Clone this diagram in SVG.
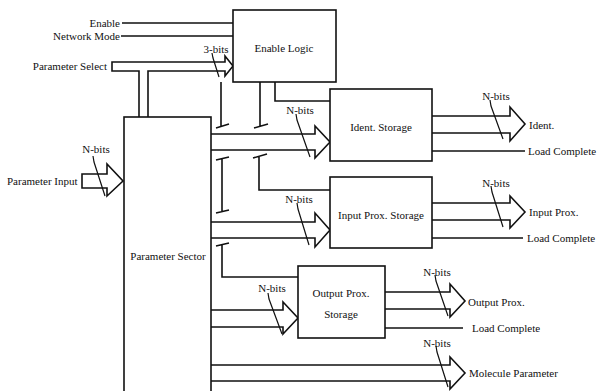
<svg xmlns="http://www.w3.org/2000/svg" width="599" height="391" viewBox="0 0 599 391">
<style>
.box{fill:#fff;stroke:#111;stroke-width:1.6}
.ln{fill:none;stroke:#111;stroke-width:1.6}
.th{fill:none;stroke:#111;stroke-width:1.2}
text{font-family:"Liberation Serif","Times New Roman",serif;font-size:11px;fill:#111}
.c{text-anchor:middle}
.e{text-anchor:end}
</style>
<rect width="599" height="391" fill="#fff"/>
<g id="connectors">
<!-- Enable / Network Mode -->
<path class="ln" d="M122,23 H233 M121,36 H233"/>
<!-- Parameter Select bus -->
<path class="ln" d="M139,117 V71 H112 V62 H225 V56 L233,66 L225,76 V71 H148 V117"/>
<!-- Parameter Input bus -->
<path class="ln" d="M107,174 H82 V188 H107 V196 L123,181 L107,164 Z"/>
<!-- Enable logic outputs with ticks -->
<path class="ln" d="M221,82 V126 M216,128 L229,124"/>
<path class="ln" d="M260,82 V126 M254,128 L268,124"/>
<path class="ln" d="M275,82 V101 H330"/>
<path class="ln" d="M222,159 V212 M216,160 L229,157 M216,213 L229,210"/>
<path class="ln" d="M259,157 V190 H330 M253,158 L267,154"/>
<path class="ln" d="M222,245 V277 H298 M216,246 L229,243"/>
<!-- Ident. Storage in/out -->
<path class="ln" d="M211,134 H315 V126 L330,142 L315,158 V150 H211"/>
<path class="ln" d="M432,116 H510 V107 L525,124 L510,141 V133 H432"/>
<path class="ln" d="M432,151 H525"/>
<!-- Input Prox. Storage in/out -->
<path class="ln" d="M211,222 H315 V213 L330,230 L315,247 V238 H211"/>
<path class="ln" d="M432,203 H510 V196 L525,212 L510,228 V220 H432"/>
<path class="ln" d="M432,238 H523"/>
<!-- Output Prox. Storage in/out -->
<path class="ln" d="M211,310 H283 V302 L298,318 L283,334 V327 H211"/>
<path class="ln" d="M385,292 H450 V284 L465,301 L450,317 V309 H385"/>
<path class="ln" d="M385,328 H463"/>
<!-- Molecule Parameter -->
<path class="ln" d="M211,365 H450 V357 L465,373 L450,389 V381 H211"/>
<!-- bit-width slashes -->
<path class="th" d="M93,156 L94,162 L105,196"/>
<path class="th" d="M212,53 L213,58 L219,77"/>
<path class="th" d="M296,114 L297,120 L310,157"/>
<path class="th" d="M490,100 L491,106 L503,139"/>
<path class="th" d="M297,203 L298,209 L309,245"/>
<path class="th" d="M491,186 L492,192 L503,227"/>
<path class="th" d="M268,293 L269,299 L282,334"/>
<path class="th" d="M435,275 L436,281 L448,316"/>
<path class="th" d="M436,346 L437,352 L448,387"/>
</g>
<g id="enable-logic">
<rect class="box" x="233" y="10" width="103" height="72"/>
<text class="c" x="284" y="52">Enable Logic</text>
</g>
<g id="ident-storage">
<rect class="box" x="330" y="89" width="102" height="72"/>
<text class="c" x="381" y="131">Ident. Storage</text>
</g>
<g id="input-prox-storage">
<rect class="box" x="330" y="177" width="102" height="71"/>
<text class="c" x="381" y="219">Input Prox. Storage</text>
</g>
<g id="output-prox-storage">
<rect class="box" x="298" y="266" width="87" height="72"/>
<text class="c" x="341" y="297">Output Prox.</text>
<text class="c" x="341" y="318">Storage</text>
</g>
<g id="parameter-sector">
<rect class="box" x="124" y="117" width="87" height="280"/>
<text class="c" x="168" y="260">Parameter Sector</text>
</g>
<g id="labels">
<text class="e" x="120" y="27">Enable</text>
<text class="e" x="120" y="40">Network Mode</text>
<text class="e" x="107" y="70">Parameter Select</text>
<text x="7" y="185">Parameter Input</text>
<text class="c" x="96" y="153">N-bits</text>
<text class="c" x="216" y="53">3-bits</text>
<text class="c" x="300" y="114">N-bits</text>
<text class="c" x="496" y="100">N-bits</text>
<text x="529" y="129">Ident.</text>
<text x="528" y="155">Load Complete</text>
<text class="c" x="299" y="203">N-bits</text>
<text class="c" x="496" y="187">N-bits</text>
<text x="529" y="216">Input Prox.</text>
<text x="527" y="242">Load Complete</text>
<text class="c" x="272" y="292">N-bits</text>
<text class="c" x="437" y="276">N-bits</text>
<text x="468" y="306">Output Prox.</text>
<text x="472" y="332">Load Complete</text>
<text class="c" x="437" y="347">N-bits</text>
<text x="469" y="377">Molecule Parameter</text>
</g>
</svg>
